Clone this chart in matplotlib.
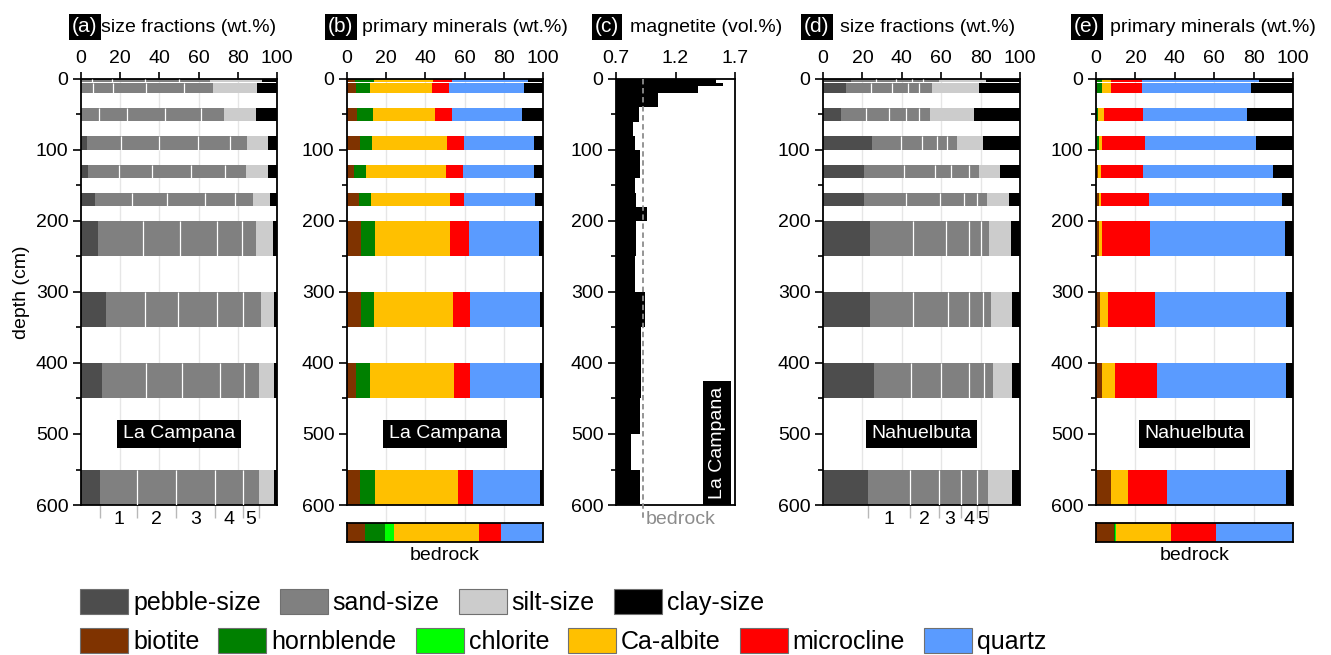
import numpy as np
import matplotlib.pyplot as plt
from matplotlib.patches import Patch

plt.rcParams['font.family'] = ['Liberation Sans', 'DejaVu Sans']
plt.rcParams['font.size'] = 14

W, H = 1331, 655

# sample depth intervals (cm), same for both sites
depth_top = np.array([0, 5, 40, 80, 120, 160, 200, 300, 400, 550])
depth_bot = np.array([5, 20, 60, 100, 140, 180, 250, 350, 450, 600])

# --- La Campana size fractions (wt.%) ---
lc_pebble = [0, 0, 0, 2.9, 3.4, 7.2, 8.9, 12.8, 10.6, 9.7]
# sand sub-fractions 1..5 (very coarse -> very fine)
lc_sand = [[5.6, 10.2, 17.1, 17.0, 16.0],
           [6.0, 10.2, 17.0, 19.6, 14.8],
           [9.0, 14.3, 19.8, 17.9, 11.9],
           [17.5, 19.6, 19.6, 16.5, 8.7],
           [15.9, 17.0, 19.6, 17.7, 10.7],
           [18.9, 17.9, 19.5, 15.2, 9.0],
           [22.6, 18.8, 19.2, 12.4, 7.5],
           [20.1, 16.5, 20.1, 13.1, 9.4],
           [22.6, 18.2, 19.5, 12.2, 7.7],
           [18.9, 20.0, 19.7, 14.3, 8.2]]
lc_silt = [26.6, 22.4, 16.2, 10.6, 11.3, 8.6, 8.6, 6.5, 7.5, 7.5]
lc_clay = [7.5, 10.0, 10.9, 4.6, 4.4, 3.7, 2.0, 1.5, 1.7, 1.7]

# --- Nahuelbuta size fractions (wt.%) ---
nb_pebble = [14.4, 11.9, 9.3, 25.1, 20.8, 20.8, 24.1, 23.7, 25.9, 22.9]
nb_sand = [[12.6, 10.0, 8.0, 6.0, 8.0],
           [12.3, 10.9, 7.8, 5.9, 6.6],
           [12.7, 11.4, 8.5, 6.7, 5.6],
           [14.7, 10.2, 8.0, 5.0, 4.8],
           [20.4, 15.9, 7.9, 9.2, 5.0],
           [21.2, 17.3, 12.4, 6.3, 5.4],
           [21.7, 16.4, 12.0, 5.8, 4.4],
           [22.1, 17.4, 11.0, 7.2, 3.7],
           [18.7, 15.4, 14.2, 7.7, 4.2],
           [21.2, 14.9, 10.8, 8.2, 5.9]]
nb_silt = [23.7, 23.9, 22.6, 13.2, 10.6, 11.2, 11.0, 11.0, 10.0, 12.2]
nb_clay = [17.3, 20.7, 23.2, 19.0, 10.2, 5.4, 4.6, 3.9, 3.9, 3.9]

# --- primary minerals (wt.%): biotite, hornblende, chlorite, Ca-albite, microcline, quartz, other ---
lc_minerals = [[4.3, 9.5, 0, 30.1, 9.7, 38.7, 7.7],
               [4.8, 7.1, 0, 31.5, 8.6, 38.3, 9.7],
               [5.3, 8.0, 0, 31.8, 8.3, 36.1, 10.5],
               [6.5, 6.3, 0, 38.4, 8.3, 35.9, 4.6],
               [3.4, 6.1, 0, 41.2, 8.5, 36.2, 4.6],
               [6.1, 6.3, 0, 40.0, 7.1, 36.6, 3.9],
               [7.0, 7.5, 0, 37.9, 9.8, 35.7, 2.1],
               [7.0, 6.6, 0, 40.5, 8.5, 36.0, 1.4],
               [4.8, 7.1, 0, 42.5, 8.2, 36.0, 1.4],
               [6.5, 8.0, 0, 42.1, 7.7, 34.3, 1.4]]
lc_bedrock = [9.4, 9.8, 4.6, 43.4, 11.5, 21.3, 0]

nb_minerals = [[0.7, 2.2, 0, 4.6, 15.7, 59.7, 17.1],
               [0.3, 2.6, 0, 4.6, 16.1, 55.2, 21.2],
               [0, 1.2, 0, 2.7, 20.0, 52.7, 23.4],
               [0.5, 1.0, 0, 1.4, 21.8, 56.5, 18.8],
               [1.2, 0, 0, 1.3, 21.6, 65.9, 10.0],
               [1.4, 0, 0, 1.1, 24.4, 67.5, 5.6],
               [1.7, 0, 0, 1.3, 24.5, 68.3, 4.2],
               [2.0, 0, 0, 4.3, 23.7, 66.4, 3.6],
               [3.2, 0, 0, 6.3, 21.3, 65.6, 3.6],
               [7.5, 0, 0, 8.6, 19.8, 60.5, 3.6]]
nb_bedrock = [9.2, 0.2, 0.6, 28.0, 23.0, 39.0, 0]

# --- magnetite (vol.%), La Campana ---
mag_edges = [0, 5, 10, 20, 40, 60, 80, 100, 120, 140, 160, 180, 200,
             250, 300, 350, 400, 450, 500, 550, 600]
mag_vals = [1.54, 1.60, 1.39, 1.05, 0.89, 0.84, 0.86, 0.90, 0.90, 0.86,
            0.87, 0.96, 0.87, 0.86, 0.94, 0.91, 0.91, 0.90, 0.83, 0.90]
mag_bedrock = 0.93

size_labels = ['pebble-size', 'sand-size', 'silt-size', 'clay-size']
size_colors = ['#4d4d4d', '#808080', '#cccccc', '#000000']
min_labels = ['biotite', 'hornblende', 'chlorite', 'Ca-albite', 'microcline', 'quartz']
min_colors = ['#7f3300', '#008000', '#00ff00', '#ffc000', '#ff0000', '#5a9bff', '#000000']

fig = plt.figure(figsize=(W / 100, H / 100), dpi=100)


def px_axes(x0, x1, y0, y1):
    return fig.add_axes([x0 / W, 1 - y1 / H, (x1 - x0) / W, (y1 - y0) / H])


def style_depth_axes(ax, xlim, xticks):
    ax.set_ylim(600, 0)
    ax.set_xlim(*xlim)
    ax.xaxis.tick_top()
    ax.set_xticks(xticks)
    ax.set_yticks(np.arange(0, 601, 100))
    ax.set_yticks(np.arange(50, 600, 100), minor=True)
    ax.tick_params(axis='x', which='both', direction='out', length=5, width=1.2, pad=3.5)
    ax.tick_params(axis='y', which='major', direction='out', length=6, width=1.2, pad=3)
    ax.tick_params(axis='y', which='minor', direction='out', length=3.6, width=1.2)
    for s in ax.spines.values():
        s.set_linewidth(1.3)


centers = (depth_top + depth_bot) / 2
heights = (depth_bot - depth_top) - 1.2


def draw_size(ax, pebble, sand, silt, clay, site):
    sand = np.array(sand)
    parts = [np.array(pebble)] + [sand[:, i] for i in range(5)] + [np.array(silt), np.array(clay)]
    cols = [size_colors[0]] + [size_colors[1]] * 5 + [size_colors[2], size_colors[3]]
    style_depth_axes(ax, (0, 100), range(0, 101, 20))
    for g in (20, 40, 60, 80):
        ax.axvline(g, color='#e6e6e6', lw=1, zorder=0)
    left = np.zeros(len(centers))
    bounds = []
    for p, c in zip(parts, cols):
        ax.barh(centers, p, height=heights, left=left, color=c, lw=0, zorder=2)
        left = left + p
        bounds.append(left.copy())
    # white separators between sand sub-fractions
    for b in bounds[1:5]:
        ax.vlines(b, depth_top + 0.6, depth_bot - 0.6, color='white', lw=0.9, zorder=3)
    # labelled sand sub-fractions under the deepest sample
    ticks = [bounds[i][-1] for i in range(0, 6)]
    ax.vlines(ticks, 600, 618, color='#b8b8b8', lw=1, clip_on=False)
    for i in range(5):
        ax.text((ticks[i] + ticks[i + 1]) / 2, 621, str(i + 1), ha='center', va='center',
                fontsize=14, clip_on=False)
    ax.text(50, 500, site, color='white', ha='center', va='center', fontsize=14, zorder=5,
            bbox=dict(facecolor='black', edgecolor='none', boxstyle='square,pad=0.3'))


def draw_minerals(ax, data, site):
    data = np.array(data)
    style_depth_axes(ax, (0, 100), range(0, 101, 20))
    for g in (20, 40, 60, 80):
        ax.axvline(g, color='#e6e6e6', lw=1, zorder=0)
    ax.vlines([20, 40, 60, 80], 600, 626, color='#e6e6e6', lw=1, clip_on=False)
    left = np.zeros(len(centers))
    for i, c in enumerate(min_colors):
        ax.barh(centers, data[:, i], height=heights, left=left, color=c, lw=0, zorder=2)
        left = left + data[:, i]
    ax.text(50, 500, site, color='white', ha='center', va='center', fontsize=14, zorder=5,
            bbox=dict(facecolor='black', edgecolor='none', boxstyle='square,pad=0.3'))


def draw_bedrock(x0, x1, vals):
    bx = px_axes(x0, x1, 523, 542)
    left = 0
    for v, c in zip(vals, min_colors):
        bx.barh(0, v, height=1, left=left, color=c, lw=0)
        left += v
    bx.set_xlim(0, 100)
    bx.set_ylim(-0.5, 0.5)
    bx.set_xticks([])
    bx.set_yticks([])
    for s in bx.spines.values():
        s.set_linewidth(1.3)
    bx.text(50, -0.75, 'bedrock', ha='center', va='top', fontsize=14, clip_on=False)


# panel (a)
ax_a = px_axes(81, 277, 79, 505)
draw_size(ax_a, lc_pebble, lc_sand, lc_silt, lc_clay, 'La Campana')
ax_a.set_ylabel('depth (cm)', fontsize=14, labelpad=4)

# panel (b)
ax_b = px_axes(347, 543, 79, 505)
draw_minerals(ax_b, lc_minerals, 'La Campana')
draw_bedrock(347, 543, lc_bedrock)

# panel (c)
ax_c = px_axes(616, 735, 79, 505)
style_depth_axes(ax_c, (0.7, 1.7), [0.7, 1.2, 1.7])
ax_c.set_xticklabels(['0.7', '1.2', '1.7'])
ax_c.stairs(mag_vals, mag_edges, orientation='horizontal', baseline=0.7, fill=True,
            color='black', zorder=2)
ax_c.plot([mag_bedrock, mag_bedrock], [0, 622], color='#8c8c8c', ls=(0, (3, 2)), lw=1.3,
          zorder=3, clip_on=False)
ax_c.text(mag_bedrock + 0.02, 621, 'bedrock', color='#8c8c8c', ha='left', va='center',
          fontsize=14, clip_on=False)
ax_c.text(1.55, 592, 'La Campana', color='white', rotation=90, ha='center', va='bottom',
          fontsize=14, zorder=5,
          bbox=dict(facecolor='black', edgecolor='none', boxstyle='square,pad=0.3'))

# panel (d)
ax_d = px_axes(823, 1020, 79, 505)
draw_size(ax_d, nb_pebble, nb_sand, nb_silt, nb_clay, 'Nahuelbuta')

# panel (e)
ax_e = px_axes(1096, 1293, 79, 505)
draw_minerals(ax_e, nb_minerals, 'Nahuelbuta')
draw_bedrock(1096, 1293, nb_bedrock)

# panel titles
titles = [('(a)', 'size fractions (wt.%)', 72, 101),
          ('(b)', 'primary minerals (wt.%)', 328, 362),
          ('(c)', 'magnetite (vol.%)', 595, 630),
          ('(d)', 'size fractions (wt.%)', 804, 840),
          ('(e)', 'primary minerals (wt.%)', 1074, 1110)]
for tag, txt, xt, xx in titles:
    fig.text(xt / W, 1 - 27 / H, tag, color='white', ha='left', va='center', fontsize=15,
             bbox=dict(facecolor='black', edgecolor='none', boxstyle='square,pad=0.15'))
    fig.text(xx / W, 1 - 27 / H, txt, ha='left', va='center', fontsize=14)

# legends
size_handles = [Patch(facecolor=c, edgecolor='#707070', lw=0.8, label=l)
                for l, c in zip(size_labels, size_colors)]
min_handles = [Patch(facecolor=c, edgecolor='#707070', lw=0.8, label=l)
               for l, c in zip(min_labels, min_colors)]
leg_kw = dict(loc='center left', frameon=False, fontsize=18, handlelength=1.92,
              handleheight=1.12, handletextpad=0.2, columnspacing=0.76,
              borderpad=0, borderaxespad=0)
fig.legend(handles=size_handles, ncol=4, bbox_to_anchor=(80 / W, 1 - 602 / H), **leg_kw)
fig.legend(handles=min_handles, ncol=6, bbox_to_anchor=(80 / W, 1 - 641 / H), **leg_kw)

fig.savefig('out.png', dpi=100)
